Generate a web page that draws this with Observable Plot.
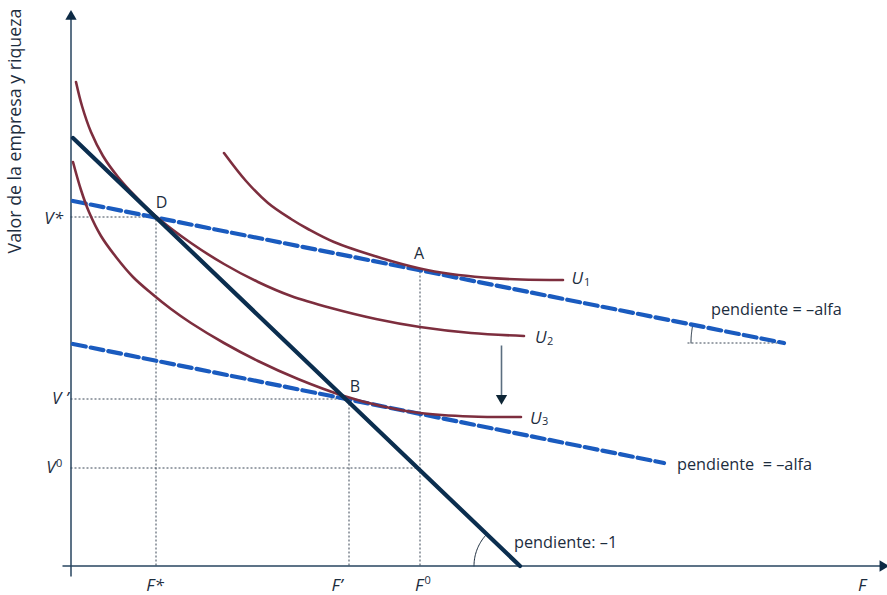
<!DOCTYPE html>
<html>
<head>
<meta charset="utf-8">
<script src="https://cdn.jsdelivr.net/npm/d3@7"></script>
<script src="https://cdn.jsdelivr.net/npm/@observablehq/plot@0.6"></script>
<style>
  html, body { margin: 0; padding: 0; background: #fff; }
  #chart { width: 887px; height: 595px; overflow: hidden; }
</style>
</head>
<body>
<div id="chart"></div>
<script>
// Data coordinates: F (horizontal), V (vertical), origin at the axes' intersection
const budgetLine = [{F: 2, V: 428}, {F: 449, V: 0}];          // pendiente: -1
const isoLine1 = [{F: 2, V: 365}, {F: 713, V: 223}];          // pendiente = -alfa (upper)
const isoLine2 = [{F: 2, V: 222}, {F: 593, V: 103}];          // pendiente = -alfa (lower)

const U1F = [153, 175, 197, 220, 237, 263, 310, 349, 380, 413, 450, 492];
const U1V = [413, 385, 363, 347, 337, 324, 308, 297.5, 292, 288.5, 286.5, 286];
const U2F = [5, 11, 20, 32, 47, 65, 85, 120, 153, 187, 220, 260, 305, 349, 400, 453];
const U2V = [484, 460, 434, 410, 389, 369, 349.5, 323, 302, 284, 270, 258, 247, 239, 233, 230];
const U3F = [2, 10, 18, 30, 45, 62, 80, 100, 120, 153, 187, 227, 273, 310, 349, 400, 450];
const U3V = [404, 376, 354, 330, 309, 289, 273, 257, 243, 223, 205, 187, 170, 160, 153, 149.5, 149];

// Reference values
const Fstar = 85, Vstar = 349;
const Fprime = 278, Vprime = 167;
const F0 = 349, V0 = 98, VA = 297;

const curve = (fs, vs) => fs.map((f, i) => ({F: f, V: vs[i]}));
const U1 = curve(U1F, U1V), U2 = curve(U2F, U2V), U3 = curve(U3F, U3V);

const guidesH = [{V: Vstar, F: Fstar}, {V: Vprime, F: Fprime}, {V: V0, F: F0}];
const guidesV = [{F: Fstar, V: Vstar}, {F: Fprime, V: Vprime}, {F: F0, V: VA}];

// angle markers (decorative arcs)
function arc(cx, cy, r, a0, a1) {
  const n = 24, pts = [];
  for (let i = 0; i <= n; i++) {
    const a = (a0 + (a1 - a0) * i / n) * Math.PI / 180;
    pts.push({F: cx + r * Math.cos(a), V: cy + r * Math.sin(a)});
  }
  return pts;
}
const arcBottom = arc(449, 0, 46, 136.2, 180);
const arcTop = arc(713, 223, 93, 168.7, 180);

const ink = "#1d2d3e";
const axisCol = "#27445f";
const dotCol = "#3a4756";
const maroon = "#7d2e3e";
const blue = "#1a5bbf";
const navy = "#0b2e4f";
const font = "Open Sans";

const chart = Plot.plot({
  width: 887,
  height: 595,
  marginTop: 0, marginRight: 0, marginBottom: 0, marginLeft: 0,
  style: {fontFamily: font, background: "white", color: ink},
  x: {type: "linear", domain: [0, 817], range: [70.5, 887.5], axis: null},
  y: {type: "linear", domain: [0, 566], range: [565.5, -0.5], axis: null},
  marks: [
    // dotted guide lines
    Plot.ruleY(guidesH, {y: "V", x1: 0, x2: "F", stroke: dotCol, strokeWidth: 1, strokeDasharray: "2,2"}),
    Plot.ruleX(guidesV, {x: "F", y1: 0, y2: "V", stroke: dotCol, strokeWidth: 1, strokeDasharray: "2,2"}),
    Plot.ruleY([223], {x1: 617, x2: 713, stroke: dotCol, strokeWidth: 1, strokeDasharray: "2,2"}),
    // angle arcs
    Plot.line(arcBottom, {x: "F", y: "V", stroke: ink, strokeWidth: 1}),
    Plot.line(arcTop, {x: "F", y: "V", stroke: ink, strokeWidth: 1}),
    // axes
    Plot.ruleY([0], {x1: -8, x2: 810, stroke: axisCol, strokeWidth: 1.5}),
    Plot.ruleX([0], {y1: -11, y2: 548, stroke: axisCol, strokeWidth: 1.5}),
    Plot.dot([{F: 0, V: 549.5}], {x: "F", y: "V", symbol: "triangle2", r: 5.4, fill: "#0d2a45", stroke: "none"}),
    Plot.dot([{F: 811.8, V: 0}], {x: "F", y: "V", symbol: "triangle2", r: 5.4, fill: "#0d2a45", stroke: "none", rotate: 90}),
    // iso-value dashed lines
    Plot.line(isoLine1, {x: "F", y: "V", stroke: blue, strokeWidth: 4.2, strokeDasharray: "13,5"}),
    Plot.line(isoLine2, {x: "F", y: "V", stroke: blue, strokeWidth: 4.2, strokeDasharray: "13,5"}),
    // indifference curves
    Plot.line(U1, {x: "F", y: "V", stroke: maroon, strokeWidth: 2.6, curve: "catmull-rom"}),
    Plot.line(U2, {x: "F", y: "V", stroke: maroon, strokeWidth: 2.6, curve: "catmull-rom"}),
    Plot.line(U3, {x: "F", y: "V", stroke: maroon, strokeWidth: 2.6, curve: "catmull-rom"}),
    // budget line
    Plot.line(budgetLine, {x: "F", y: "V", stroke: navy, strokeWidth: 4.2}),
    // shift arrow
    Plot.ruleX([430.5], {y1: 220, y2: 170, stroke: "#5b6e80", strokeWidth: 1.6}),
    Plot.dot([{F: 430.5, V: 167.7}], {x: "F", y: "V", symbol: "triangle2", r: 5.4, fill: "#0d2535", stroke: "none", rotate: 180}),
    // point labels
    Plot.text([{F: 90.5, V: 363, t: "D"}, {F: 348, V: 312, t: "A"}, {F: 284, V: 179.5, t: "B"}],
      {x: "F", y: "V", text: "t", fontSize: 16, fill: ink}),
    // V labels
    Plot.text([{F: -8, V: 347.5, t: "V*"}, {F: -2.5, V: 167, t: "V ’"}, {F: -15.5, V: 98.5, t: "V"}],
      {x: "F", y: "V", text: "t", textAnchor: "end", fontSize: 17, fontStyle: "italic", fill: ink}),
    Plot.text([{F: -15, V: 102.5, t: "0"}], {x: "F", y: "V", text: "t", textAnchor: "start", fontSize: 11, fill: ink}),
    // F labels
    Plot.text([{F: 84, V: -19.5, t: "F*"}, {F: 266, V: -19.5, t: "F’"}, {F: 348, V: -19.5, t: "F"}, {F: 791, V: -20, t: "F"}],
      {x: "F", y: "V", text: "t", fontSize: 17, fontStyle: "italic", fill: ink}),
    Plot.text([{F: 353.5, V: -14.5, t: "0"}], {x: "F", y: "V", text: "t", textAnchor: "start", fontSize: 11, fill: ink}),
    // U labels
    Plot.text([{F: 500.5, V: 287, t: "U"}, {F: 464, V: 228, t: "U"}, {F: 459, V: 147, t: "U"}],
      {x: "F", y: "V", text: "t", textAnchor: "start", fontSize: 17, fontStyle: "italic", fill: ink}),
    Plot.text([{F: 513, V: 283.5, t: "1"}, {F: 476, V: 224.5, t: "2"}, {F: 471, V: 145, t: "3"}],
      {x: "F", y: "V", text: "t", textAnchor: "start", fontSize: 11, fill: ink}),
    // slope annotations
    Plot.text([{F: 640, V: 256.3, t: "pendiente = –alfa"}, {F: 606, V: 101.3, t: "pendiente \u00a0= –alfa"}, {F: 443, V: 23.3, t: "pendiente: –1"}],
      {x: "F", y: "V", text: "t", textAnchor: "start", fontSize: 16.3, fill: ink}),
    // y-axis title
    Plot.text([{F: -55.5, V: 435, t: "Valor de la empresa y riqueza"}],
      {x: "F", y: "V", text: "t", rotate: -90, fontSize: 17.8, fill: ink})
  ]
});
document.getElementById("chart").appendChild(chart);
</script>
</body>
</html>
